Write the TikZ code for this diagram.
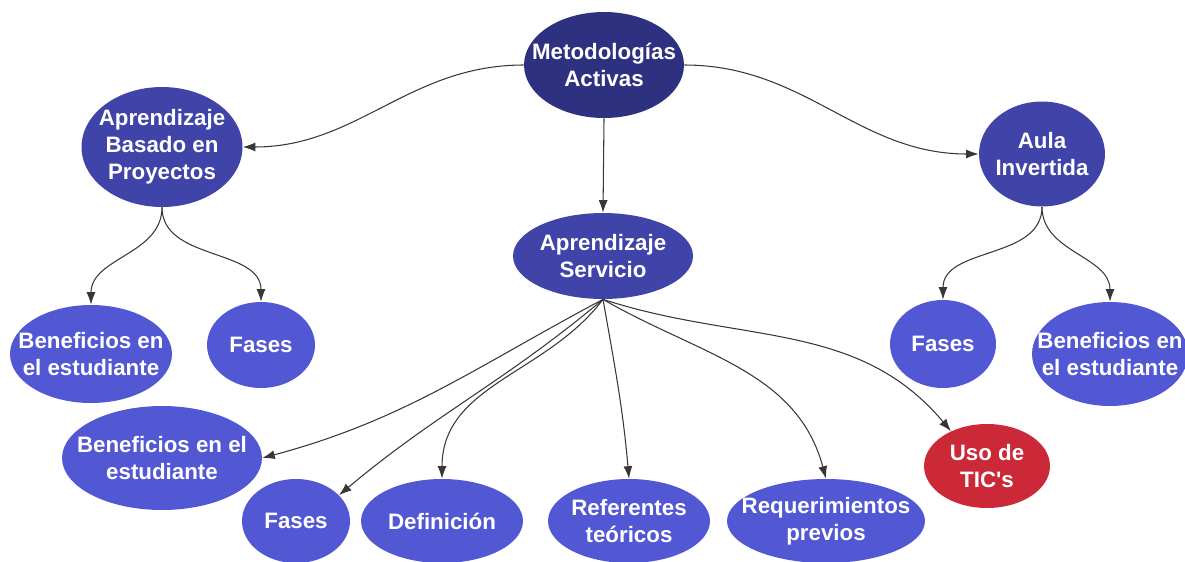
\documentclass[tikz,border=0pt]{standalone}
\usepackage{fontspec}
\setmainfont{Liberation Sans}
\usetikzlibrary{shapes.geometric,arrows.meta}
\begin{document}
\begin{tikzpicture}[x=0.02cm, y=-0.02cm,
    every node/.style={font=\fontsize{12.7}{15.4}\selectfont\bfseries, text=white, align=center},
    burbuja/.style={ellipse, inner sep=0pt},
    enlace/.style={draw=linea, line width=0.6pt, -{Latex[length=2.5mm,width=1.8mm]}}]
        \definecolor{raiz}{RGB}{46,48,128}
        \definecolor{rama}{RGB}{64,68,168}
        \definecolor{hoja}{RGB}{82,88,212}
        \definecolor{alerta}{RGB}{203,40,56}
        \definecolor{linea}{RGB}{55,55,55}
        \useasboundingbox (0,0) rectangle (1185,561);
        % nodos principales
        \node[burbuja, fill=raiz, minimum width=3.2cm, minimum height=2.12cm, label=center:{Metodologías\\Activas}] (ma) at (604,65) {};
        \node[burbuja, fill=rama, minimum width=3.22cm, minimum height=2.4cm, label=center:{Aprendizaje\\Basado en\\Proyectos}] (abp) at (162,147) {};
        \node[burbuja, fill=rama, minimum width=3.6cm, minimum height=1.72cm, label=center:{Aprendizaje\\Servicio}] (as) at (603,256) {};
        \node[burbuja, fill=rama, minimum width=2.52cm, minimum height=2.1cm, label=center:{Aula\\Invertida}] (ai) at (1042,154) {};
        % hojas
        \node[burbuja, fill=hoja, minimum width=3.24cm, minimum height=1.96cm, label=center:{Beneficios en\\el estudiante}] (benA) at (91,354) {};
        \node[burbuja, fill=hoja, minimum width=2.16cm, minimum height=1.72cm, label=center:{Fases}] (fasA) at (261,345) {};
        \node[burbuja, fill=hoja, minimum width=2.12cm, minimum height=1.76cm, label=center:{Fases}] (fasC) at (943,344) {};
        \node[burbuja, fill=hoja, minimum width=3.12cm, minimum height=2.08cm, label=center:{Beneficios en\\el estudiante}] (benC) at (1110,354) {};
        \node[burbuja, fill=hoja, minimum width=4cm, minimum height=2.08cm, label=center:{Beneficios en el\\estudiante}] (benB) at (162,458) {};
        \node[burbuja, fill=hoja, minimum width=2.16cm, minimum height=1.68cm, label=center:{Fases}] (fasB) at (296,521) {};
        \node[burbuja, fill=hoja, minimum width=3.24cm, minimum height=1.68cm, label=center:{Definición}] (def) at (442,521) {};
        \node[burbuja, fill=hoja, minimum width=3.24cm, minimum height=1.68cm, label=center:{Referentes\\teóricos}] (ref) at (629,521) {};
        \node[burbuja, fill=hoja, minimum width=3.96cm, minimum height=1.68cm, label=center:{Requerimientos\\previos}] (req) at (826,521) {};
        \node[burbuja, fill=alerta, minimum width=2.52cm, minimum height=1.68cm, label=center:{Uso de\\TIC\textquotesingle s}] (tic) at (987,466) {};
        % conectores
        \draw[enlace] (ma.west) to[out=180, in=0] (abp.east);
        \draw[enlace] (ma.east) to[out=0, in=180] (ai.west);
        \draw[enlace] (ma.south) -- (as.north);
        \draw[enlace] (abp.south) to[out=-90, in=90] (benA.north);
        \draw[enlace] (abp.south) to[out=-90, in=90] (fasA.north);
        \draw[enlace] (ai.south) to[out=-90, in=90] (fasC.north);
        \draw[enlace] (ai.south) to[out=-90, in=90] (benC.north);
        \draw[enlace] (as.south) to[out=-152, in=15] (benB.east);
        \draw[enlace] (as.south) to[out=-140, in=40] (fasB.31);
        \draw[enlace] (as.south) to[out=-127, in=90] (def.north);
        \draw[enlace] (as.south) to[out=-80, in=95] (ref.north);
        \draw[enlace] (as.south) to[out=-30, in=105] (req.north);
        \draw[enlace] (as.south) to[out=-18, in=130] (tic.136);
      \end{tikzpicture}
\end{document}
